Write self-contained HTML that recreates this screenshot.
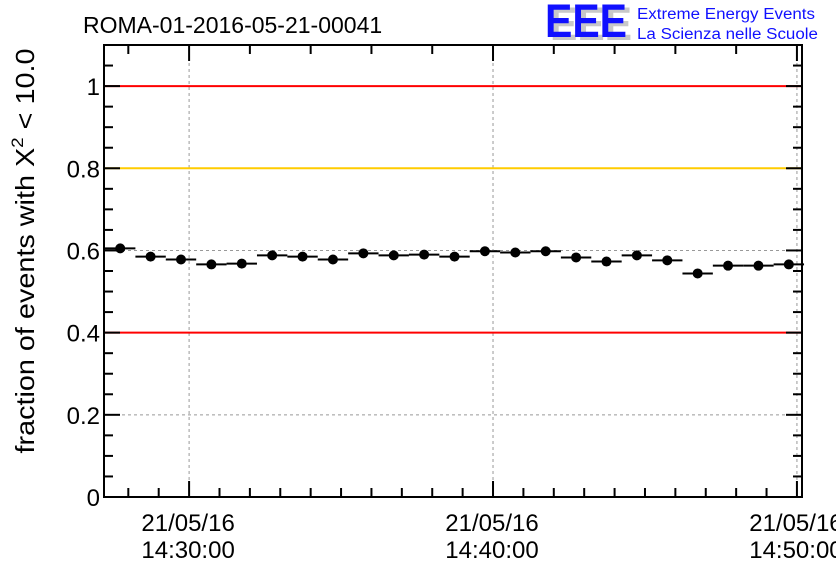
<!DOCTYPE html>
<html><head><meta charset="utf-8"><style>
body{margin:0;background:#fff;}
svg{display:block;font-family:"Liberation Sans",Arial,sans-serif;}
</style></head><body>
<svg id="chart" width="836" height="572" viewBox="0 0 836 572">
<text x="83" y="33" font-size="23">ROMA-01-2016-05-21-00041</text>
<g>
<text x="550" y="40" font-size="47" font-weight="bold" fill="#c8c8c8" textLength="82" lengthAdjust="spacingAndGlyphs">EEE</text>
<text x="545" y="37" font-size="47" font-weight="bold" fill="#1010ff" textLength="82" lengthAdjust="spacingAndGlyphs">EEE</text>
<text x="637" y="19" font-size="15.5" fill="#1010ff" textLength="178" lengthAdjust="spacingAndGlyphs">Extreme Energy Events</text>
<text x="637" y="39" font-size="15.5" fill="#1010ff" textLength="181" lengthAdjust="spacingAndGlyphs">La Scienza nelle Scuole</text>
</g>
<text transform="translate(34,251) rotate(-90)" text-anchor="middle" font-size="26" textLength="405" lengthAdjust="spacingAndGlyphs">fraction of events with X<tspan font-size="17" dy="-11">2</tspan><tspan dy="11"> &lt; 10.0</tspan></text>
<g id="grid"></g><g id="refs"></g><g id="axes"></g><g id="marks"></g>
</svg>
<script>
const times=["14:27:44","14:28:44","14:29:44","14:30:44","14:31:44","14:32:44","14:33:44","14:34:44","14:35:44","14:36:44","14:37:44","14:38:44","14:39:44","14:40:44","14:41:44","14:42:44","14:43:44","14:44:44","14:45:44","14:46:44","14:47:44","14:48:44","14:49:44"];
const values=[0.605,0.585,0.578,0.566,0.568,0.588,0.585,0.578,0.593,0.588,0.590,0.585,0.598,0.595,0.598,0.583,0.573,0.588,0.576,0.544,0.563,0.563,0.566];
const refLines=[1.0,0.8,0.4];
const refColors=["#ff0000","#ffcc00","#ff0000"];
const yTicks=[0,0.2,0.4,0.6,0.8,1];
const yTickLabels=["0","0.2","0.4","0.6","0.8","1"];
const xMajor=["14:30:00","14:40:00","14:50:00"];
const xDate="21/05/16";

const NS="http://www.w3.org/2000/svg";
const L=104,R=802,T=45,B=497;
const x0=sec("14:27:12"),x1=sec("14:50:10");
function sec(s){const p=s.split(":").map(Number);return p[0]*3600+p[1]*60+p[2];}
function X(t){return L+(t-x0)/(x1-x0)*(R-L);}
function Y(v){return B-v/1.1*(B-T);}
function mk(tag,a,parent){const e=document.createElementNS(NS,tag);for(const k in a)e.setAttribute(k,a[k]);document.getElementById(parent).appendChild(e);return e;}

yTicks.forEach(v=>{if(v>0&&v<1){const g=mk("line",{x1:L,x2:R,y1:Y(v),y2:Y(v),stroke:"#999","stroke-dasharray":"3,3","stroke-width":1},"grid");

}});
xMajor.forEach(t=>{const g=mk("line",{x1:X(sec(t)),x2:X(sec(t)),y1:T,y2:B,stroke:"#999","stroke-dasharray":"3,3","stroke-width":1},"grid");

});
refLines.forEach((v,i)=>{const l=mk("line",{x1:L,x2:R,y1:Y(v),y2:Y(v),stroke:refColors[i],"stroke-width":2},"refs");

});
const fr=mk("rect",{x:L,y:T,width:R-L,height:B-T,fill:"none",stroke:"#000","stroke-width":2},"axes");


for(let k=0;k<=22;k++){const v=k*0.05;const maj=k%4==0;const len=maj?16:9;
mk("line",{x1:L,x2:L+len,y1:Y(v),y2:Y(v),stroke:"#000","stroke-width":2},"axes");
mk("line",{x1:R,x2:R-len,y1:Y(v),y2:Y(v),stroke:"#000","stroke-width":2},"axes");}
yTicks.forEach((v,i)=>{const t=mk("text",{x:L-4,y:Y(v)+9,"text-anchor":"end","font-size":24},"axes");t.textContent=yTickLabels[i];

});
for(let t=sec("14:28:00");t<=x1;t+=60){const maj=(t%600)==0;
mk("line",{x1:X(t),x2:X(t),y1:B,y2:B-(maj?16:9),stroke:"#000","stroke-width":2},"axes");
if(((t/60)%2)==0)mk("line",{x1:X(t),x2:X(t),y1:T,y2:T+(maj?16:9),stroke:"#000","stroke-width":2},"axes");}
xMajor.forEach(s=>{const a=mk("text",{x:X(sec(s))-1,y:531,"text-anchor":"middle","font-size":24},"axes");a.textContent=xDate;


const b=mk("text",{x:X(sec(s))-1,y:558,"text-anchor":"middle","font-size":24},"axes");b.textContent=s;

});
times.forEach((s,i)=>{const t=sec(s);const y=Y(values[i]);
const e=mk("line",{x1:X(t-30),x2:X(t+30),y1:y,y2:y,stroke:"#000","stroke-width":2},"marks");


const c=mk("circle",{cx:X(t),cy:y,r:5,fill:"#000"},"marks");

});
</script>
</body></html>
